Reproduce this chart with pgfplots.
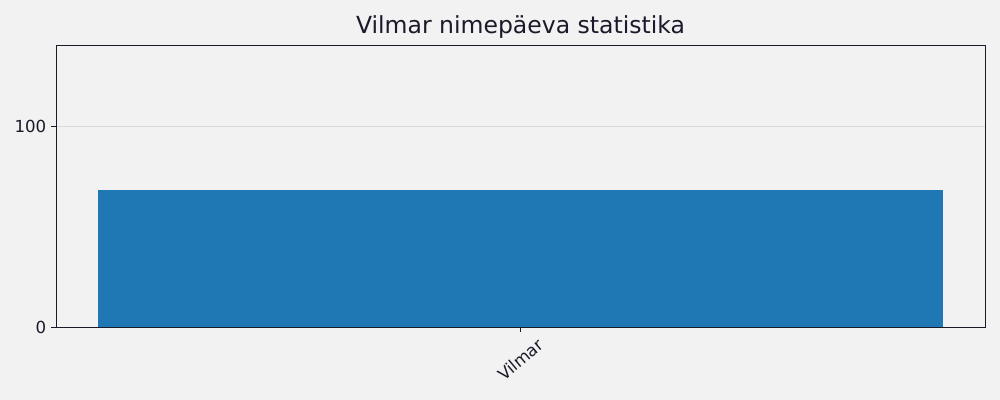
\documentclass[border=0pt]{standalone}
\usepackage{fontspec}
\setmainfont{DejaVu Sans}
\usepackage{pgfplots}
\pgfplotsset{compat=1.18}
\definecolor{bg}{HTML}{F2F2F2}
\definecolor{barc}{HTML}{1F77B4}
\definecolor{ink}{HTML}{1A1A2A}
\definecolor{gridc}{HTML}{D9D9D9}
\begin{document}
\begin{tikzpicture}
% page = 1000 x 400 px, 1 px = 0.7227pt
\fill[bg] (0,0) rectangle (722.7pt,289.08pt);
\begin{axis}[
  at={(40.47pt,52.76pt)}, anchor=south west,
  scale only axis, width=671.4pt, height=203.8pt,
  xmin=-0.44, xmax=0.44, ymin=0, ymax=140.3,
  xtick={0}, xticklabels={Vilmar}, ytick={0,100},
  axis background/.style={fill=bg},
  ymajorgrids, grid style={gridc, line width=0.6pt},
  axis line style={ink, line width=0.7pt},
  tick style={ink, line width=0.7pt},
  tick align=outside, tick pos=left, major tick length=3.5pt,
  ticklabel style={font=\fontsize{12}{14}\selectfont, text=ink},
  xticklabel style={anchor=center, yshift=-20pt, rotate=40},
  /pgf/number format/assume math mode=true,
  title={Vilmar nimepäeva statistika},
  title style={font=\fontsize{17}{20}\selectfont, text=ink, at={(0.5,1)}, anchor=base, yshift=2.5pt},
]
\addplot[ybar, bar width=0.8, fill=barc, draw=none] coordinates {(0,68)};
\end{axis}
\end{tikzpicture}
\end{document}
